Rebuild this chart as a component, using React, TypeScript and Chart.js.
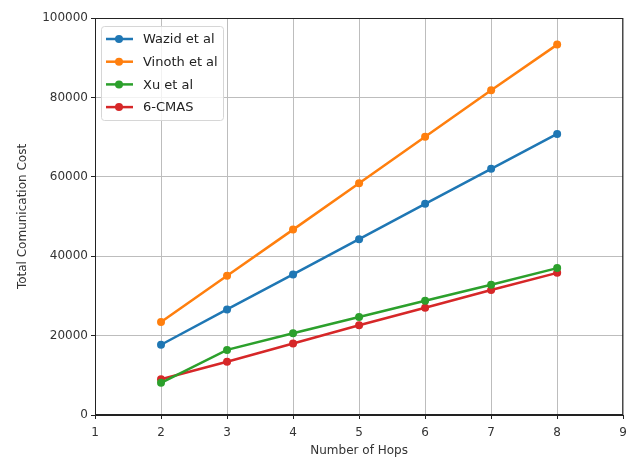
import React, { useEffect, useRef } from "react";
import { Chart, registerables } from "chart.js";

Chart.register(...registerables);

const hops = [2, 3, 4, 5, 6, 7, 8];
const wazid = [17700, 26600, 35400, 44300, 53200, 62000, 70800];
const vinoth = [23400, 35100, 46700, 58400, 70100, 81800, 93300];
const xu = [8100, 16400, 20600, 24700, 28800, 32800, 37000];
const cmas = [9000, 13400, 18000, 22600, 27000, 31500, 35800];
const seriesNames = ["Wazid et al", "Vinoth et al", "Xu et al", "6-CMAS"];
const seriesColors = ["#1f77b4", "#ff7f0e", "#2ca02c", "#d62728"];

const FONT = "'DejaVu Sans', sans-serif";

const frameAndLegend = {
  id: "frameAndLegend",
  afterDatasetsDraw(chart: any) {
    const { ctx, chartArea: a } = chart;
    ctx.save();
    ctx.strokeStyle = "#222";
    ctx.lineWidth = 1;
    ctx.strokeRect(a.left + 0.5, a.top + 0.5, a.right - a.left - 1, a.bottom - a.top - 1);
    // legend
    const x0 = a.left + 6;
    const y0 = a.top + 8;
    const w = 122;
    const h = 94;
    ctx.fillStyle = "rgba(255,255,255,0.8)";
    ctx.strokeStyle = "#d6d6d6";
    ctx.beginPath();
    ctx.roundRect(x0 + 0.5, y0 + 0.5, w, h, 3);
    ctx.fill();
    ctx.stroke();
    ctx.font = "13px " + FONT;
    ctx.textBaseline = "middle";
    chart.data.datasets.forEach((ds: any, i: number) => {
      const cy = y0 + 13 + i * 22.7;
      ctx.strokeStyle = ds.borderColor;
      ctx.lineWidth = 2.5;
      ctx.beginPath();
      ctx.moveTo(x0 + 5, cy);
      ctx.lineTo(x0 + 32, cy);
      ctx.stroke();
      ctx.fillStyle = ds.borderColor;
      ctx.beginPath();
      ctx.arc(x0 + 18, cy, 4, 0, Math.PI * 2);
      ctx.fill();
      ctx.fillStyle = "#222";
      ctx.fillText(ds.label, x0 + 42, cy + 1);
    });
    ctx.restore();
  },
};

export default function App() {
  const ref = useRef<HTMLCanvasElement>(null);
  useEffect(() => {
    document.body.style.margin = "0";
    const all = [wazid, vinoth, xu, cmas];
    const chart = new Chart(ref.current!, {
      type: "line",
      data: {
        datasets: all.map((vals, i) => ({
          label: seriesNames[i],
          data: hops.map((h, j) => ({ x: h, y: vals[j] })),
          borderColor: seriesColors[i],
          backgroundColor: seriesColors[i],
          borderWidth: 2.5,
          pointRadius: 4,
          pointBorderWidth: 0,
          tension: 0,
        })),
      },
      options: {
        animation: false,
        responsive: false,
        layout: { padding: { top: 18, right: 10, left: 0, bottom: 0 } },
        plugins: { legend: { display: false }, tooltip: { enabled: false } },
        scales: {
          x: {
            type: "linear",
            min: 1,
            max: 9,
            ticks: { stepSize: 1, color: "#333", font: { family: FONT, size: 12 }, padding: 7 },
            grid: { color: "#bdbdbd", lineWidth: 1, tickLength: 4, tickColor: "#222" },
            border: { color: "#222", width: 1 },
            title: { display: true, text: "Number of Hops", color: "#333", font: { family: FONT, size: 12 }, padding: { top: 2 } },
            afterFit(s: any) { s.height = 47; },
          },
          y: {
            min: 0,
            max: 100000,
            ticks: {
              stepSize: 20000,
              color: "#333",
              font: { family: FONT, size: 12 },
              padding: 3,
              callback: (v: any) => String(v),
            },
            grid: { color: "#bdbdbd", lineWidth: 1, tickLength: 4, tickColor: "#222" },
            border: { color: "#222", width: 1 },
            title: { display: true, text: "Total Comunication Cost", color: "#333", font: { family: FONT, size: 12 }, padding: { top: 16, bottom: 0 } },
            afterFit(s: any) { s.width = 95; },
          },
        },
      },
      plugins: [frameAndLegend],
    });
    return () => chart.destroy();
  }, []);
  return (
    <div style={{ width: 634, height: 462 }}>
      <canvas ref={ref} width={634} height={462} />
    </div>
  );
}
